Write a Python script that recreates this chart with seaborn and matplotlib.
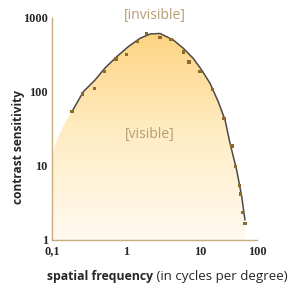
import numpy as np
import matplotlib
matplotlib.use("Agg")
import matplotlib.pyplot as plt
import seaborn as sns
from matplotlib.colors import LinearSegmentedColormap
from matplotlib.patches import Polygon
from matplotlib.ticker import FixedLocator, FixedFormatter, NullFormatter

# measured thresholds (cycles per degree, contrast sensitivity)
point_freq = [0.186, 0.26, 0.373, 0.51, 0.73, 1.02, 1.44, 1.9, 2.88, 4.06, 5.95,
              7.1, 10, 16.7, 26.4, 36.4, 42.3, 48.8, 51.8, 56.1, 61.5]
point_sens = [54.5, 94, 111, 189, 279, 323, 478, 621, 542, 515, 347,
              254, 188, 109, 43.6, 18.6, 9.8, 5.5, 4.2, 2.34, 1.68]

# fitted curve
curve_freq = [0.186, 0.265, 0.381, 0.52, 0.75, 1.07, 1.55, 2.11, 2.88, 4.36,
              5.95, 8.1, 10.7, 15.0, 20.9, 27.5, 33.6, 44, 54, 61.5]
curve_sens = [54.2, 101, 145, 211, 300, 409, 532, 608, 618, 504,
              390, 285, 198, 131, 74, 41.9, 20.3, 8.8, 3.85, 1.86]

# shaded area keeps going left of the first measurement
fill_freq = [0.1, 0.12, 0.15]
fill_sens = [14, 24, 38]

x_ticks = [0.1, 1, 10, 100]
x_labels = ['0,1', '1', '10', '100']
y_ticks = [1, 10, 100, 1000]
y_labels = ['1', '10', '100', '1000']

TAN = '#c9ab80'
TEXT_TAN = '#b89c72'

sns.set_style('white')
plt.rcParams['font.family'] = ['Open Sans', 'DejaVu Sans']

fig = plt.figure(figsize=(2.9, 2.88), dpi=100)
ax = fig.add_axes([52 / 290, 48 / 288, 205 / 290, 222 / 288])

# gradient fill under the curve
cmap = LinearSegmentedColormap.from_list('warm', ['#fffaf0', '#ffecc2', '#fdcf78'])
grad = np.linspace(0, 1, 256).reshape(-1, 1)
img = ax.imshow(grad, cmap=cmap, aspect='auto', extent=[0, 1, 0, 1],
                transform=ax.transAxes, origin='lower', zorder=1)

sns.lineplot(x=curve_freq, y=curve_sens, ax=ax, color='#4a4a4a', lw=1.1,
             sort=False, zorder=3)
sns.scatterplot(x=point_freq, y=point_sens, ax=ax, color='#8c6a2c', s=6,
                marker='s', edgecolor='none', zorder=4)


def fwd(x):
    lx = np.log10(np.clip(x, 1e-6, None))
    return np.where(lx <= 1, lx, 1 + (lx - 1) * 57 / 74)


def inv(y):
    y = np.asarray(y, dtype=float)
    return np.where(y <= 1, 10 ** y, 10 ** (1 + (y - 1) * 74 / 57))


ax.set_xscale('function', functions=(fwd, inv))
ax.set_yscale('log')
ax.set_xlim(0.1, 100)
ax.set_ylim(1, 1000)

verts = list(zip(fill_freq + curve_freq, fill_sens + curve_sens))
verts += [(curve_freq[-1], 1), (0.1, 1)]
poly = Polygon(verts, transform=ax.transData)
img.set_clip_path(poly)

# ticks
ax.xaxis.set_major_locator(FixedLocator(x_ticks))
ax.xaxis.set_major_formatter(FixedFormatter(x_labels))
x_minor = [m * d for d in (0.1, 1, 10) for m in range(2, 10)]
ax.xaxis.set_minor_locator(FixedLocator(x_minor))
ax.xaxis.set_minor_formatter(NullFormatter())
ax.yaxis.set_major_locator(FixedLocator(y_ticks))
ax.yaxis.set_major_formatter(FixedFormatter(y_labels))
y_minor = [m * d for d in (1, 10, 100) for m in range(2, 10)]
ax.yaxis.set_minor_locator(FixedLocator(y_minor))
ax.yaxis.set_minor_formatter(NullFormatter())

ax.tick_params(axis='both', which='both', direction='in', color=TAN, width=0.9)
ax.tick_params(axis='y', which='major', length=5, pad=3)
ax.tick_params(axis='y', which='minor', length=4.5)
ax.tick_params(axis='x', which='major', length=4, pad=4)
ax.tick_params(axis='x', which='minor', length=3)
for lab in ax.get_xticklabels() + ax.get_yticklabels():
    lab.set_fontfamily('Liberation Serif')
    lab.set_fontweight('bold')
    lab.set_fontsize(8.8)

for side in ('top', 'right'):
    ax.spines[side].set_visible(False)
for side in ('left', 'bottom'):
    ax.spines[side].set_color(TAN)
    ax.spines[side].set_linewidth(1)
ax.set_facecolor('none')

# region labels
ax.text(0.502, 1.01, '[invisible]', transform=ax.transAxes, ha='center',
        va='center', color=TEXT_TAN, fontsize=10)
ax.text(0.478, 0.477, '[visible]', transform=ax.transAxes, ha='center',
        va='center', color=TEXT_TAN, fontsize=10)

# axis titles
fig.text(19 / 290, 1 - 147 / 288, 'contrast sensitivity', rotation=90,
         ha='center', va='center', fontweight='bold', fontsize=8.6)
t1 = fig.text(47 / 290, 1 - 283 / 288, 'spatial frequency', ha='left',
              va='bottom', fontweight='bold', fontsize=8.8)
ax.annotate(' (in cycles per degree)', xy=(1, 0), xycoords=t1,
            ha='left', va='bottom', fontsize=9.6, annotation_clip=False)

fig.savefig('out.png', dpi=100)
